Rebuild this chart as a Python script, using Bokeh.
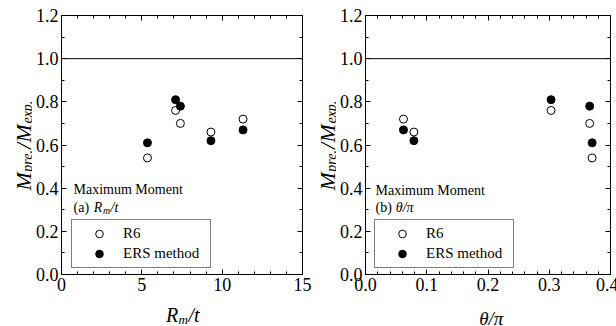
from math import pi
from bokeh.plotting import figure
from bokeh.models import (Range1d, Span, Label, FixedTicker, PrintfTickFormatter,
                          BasicTickFormatter, LinearAxis, CustomJSTickFormatter)
from bokeh.layouts import row, column
from bokeh.embed import file_html
from bokeh.resources import INLINE

# ---------------- data ----------------
rm_t = [5.35, 7.1, 7.4, 9.3, 11.3]              # R_m/t of each specimen
theta_pi = [0.370, 0.303, 0.366, 0.079, 0.062]  # theta/pi of each specimen
r6 = [0.54, 0.76, 0.70, 0.66, 0.72]             # R6 : M_pre./M_exp.
ers = [0.61, 0.81, 0.78, 0.62, 0.67]            # ERS method : M_pre./M_exp.
ref_line = 1.0
series_names = ["R6", "ERS method"]
note_title = "Maximum Moment"

y_ticks = [0.0, 0.2, 0.4, 0.6, 0.8, 1.0, 1.2]
y_minor = [round(0.1 * k, 1) for k in range(13)]
x1_ticks = [0, 5, 10, 15]
x1_minor = list(range(16))
x2_ticks = [0.0, 0.1, 0.2, 0.3, 0.4]
x2_minor = [round(0.02 * k, 2) for k in range(21)]

FONT = "Liberation Serif"
W = {'M': .833, 'p': .5, 'r': .389, 'e': .444, '.': .25, 'x': .444, '/': .278,
     'R': .611, 'm': .722, 't': .278, 'θ': .5, 'π': .52, '(': .333, ')': .333,
     'a': .5, 'b': .5, ' ': .25}


def tw(s, size):
    return sum(W.get(c, 0.5) for c in s) * size


def run(p, pieces, x0, y0, vertical=False):
    pos = 0.0
    for text, size, italic, shift in pieces:
        kw = dict(text=text, text_font=FONT, text_font_size=f"{size}px",
                  text_font_style="italic" if italic else "normal",
                  text_color="black", text_align="left", text_baseline="alphabetic",
                  x_units="screen", y_units="screen")
        if vertical:
            lab = Label(x=x0 + shift, y=y0 + pos, angle=pi / 2, **kw)
        else:
            lab = Label(x=x0 + pos, y=y0 - shift, **kw)
        p.add_layout(lab)
        pos += tw(text, size) + 0.5
    return pos


def style_axis(ax, labels=True):
    ax.axis_line_color = "black"
    ax.axis_line_width = 1
    ax.major_tick_in = 5
    ax.major_tick_out = 0
    ax.minor_tick_in = 3
    ax.minor_tick_out = 0
    ax.major_tick_line_color = "black"
    ax.minor_tick_line_color = "black"
    ax.major_label_text_font = FONT
    ax.major_label_text_font_size = "18px"
    ax.major_label_text_color = "black"
    ax.major_label_standoff = 3
    if not labels:
        ax.formatter = CustomJSTickFormatter(code="return ''")
        ax.major_label_standoff = 0


def make_fig(x0, x1, xt, xm, xfmt, fw, br):
    p = figure(frame_width=fw, frame_height=259, min_border_left=28, min_border_right=br,
               min_border_top=15, min_border_bottom=24,
               x_range=Range1d(x0, x1), y_range=Range1d(0, 1.2),
               output_backend="svg", toolbar_location=None)
    p.background_fill_color = "white"
    p.border_fill_color = "white"
    p.outline_line_color = "black"
    p.grid.visible = False
    p.xaxis[0].ticker = FixedTicker(ticks=xt, minor_ticks=xm)
    p.xaxis[0].formatter = xfmt
    p.yaxis[0].ticker = FixedTicker(ticks=y_ticks, minor_ticks=y_minor)
    p.yaxis[0].formatter = PrintfTickFormatter(format="%.1f")
    style_axis(p.xaxis[0])
    style_axis(p.yaxis[0])
    top = LinearAxis(ticker=FixedTicker(ticks=xt, minor_ticks=xm))
    right = LinearAxis(ticker=FixedTicker(ticks=y_ticks, minor_ticks=y_minor))
    style_axis(top, labels=False)
    style_axis(right, labels=False)
    p.add_layout(top, "above")
    p.add_layout(right, "right")
    p.add_layout(Span(location=ref_line, dimension="width", line_color="black", line_width=1))
    return p


def add_points(p, xs, legend_x):
    p.scatter(xs, r6, marker="circle", size=8, fill_color="white", line_color="black",
              line_width=1, legend_label=series_names[0])
    p.scatter(xs, ers, marker="circle", size=8, fill_color="black", line_color="black",
              line_width=1, legend_label=series_names[1])
    lg = p.legend[0]
    lg.location = (legend_x, 6)
    lg.margin = 0
    lg.padding = 4
    lg.spacing = 1
    lg.glyph_width = 46
    lg.glyph_height = 19
    lg.label_height = 19
    lg.label_width = 83
    lg.label_standoff = 1
    lg.label_text_font = FONT
    lg.label_text_font_size = "15px"
    lg.label_text_color = "black"
    lg.border_line_color = "black"
    lg.border_line_width = 1
    lg.background_fill_alpha = 0


def label_fig(w, h):
    f = figure(width=w, height=h, min_border=0, x_axis_type=None, y_axis_type=None,
               x_range=Range1d(0, w), y_range=Range1d(0, h),
               output_backend="svg", toolbar_location=None)
    f.outline_line_color = None
    f.grid.visible = False
    f.background_fill_color = "white"
    f.border_fill_color = "white"
    return f


Y_PIECES = [("M", 22, True, 0), ("pre.", 14, True, 4), ("/", 22, True, 0),
            ("M", 22, True, 0), ("exp.", 14, True, 4)]

# ---------------- left: R_m/t ----------------
p1 = make_fig(0, 15, x1_ticks, x1_minor, BasicTickFormatter(), 241, 12)
add_points(p1, rm_t, 10)
run(p1, [(note_title, 14, False, 0)], 12, 85)
run(p1, [("(a) ", 14, False, 0), ("R", 14, True, 0), ("m", 10, True, 3), ("/t", 14, True, 0)], 12, 67)

yl1 = label_fig(32, 326)
run(yl1, Y_PIECES, 23, 136, vertical=True)

# (the column aligns this strip's frame with the plot frame above it)
xl1 = label_fig(281, 28)
xl = [("R", 20, True, 0), ("m", 13, True, 5), ("/t", 20, True, 0)]
wtot = sum(tw(t, s) + 0.5 for t, s, _, _ in xl)
run(xl1, xl, 121.5 - wtot / 2, 12)

# ---------------- right: theta/pi ----------------
p2 = make_fig(0, 0.4, x2_ticks, x2_minor, PrintfTickFormatter(format="%.1f"), 245, 8)
add_points(p2, theta_pi, 9)
run(p2, [(note_title, 14, False, 0)], 10, 84)
run(p2, [("(b) ", 14, False, 0), ("θ/π", 14, True, 0)], 10, 67)

yl2 = label_fig(22, 326)
run(yl2, Y_PIECES, 13, 136, vertical=True)

xl2 = label_fig(281, 28)
run(xl2, [("θ/π", 19, True, 0)], 126 - tw("θ/π", 19) / 2, 8)

layout = row(yl1, column(p1, xl1), yl2, column(p2, xl2))
open("out.html", "w").write(file_html(layout, INLINE))
